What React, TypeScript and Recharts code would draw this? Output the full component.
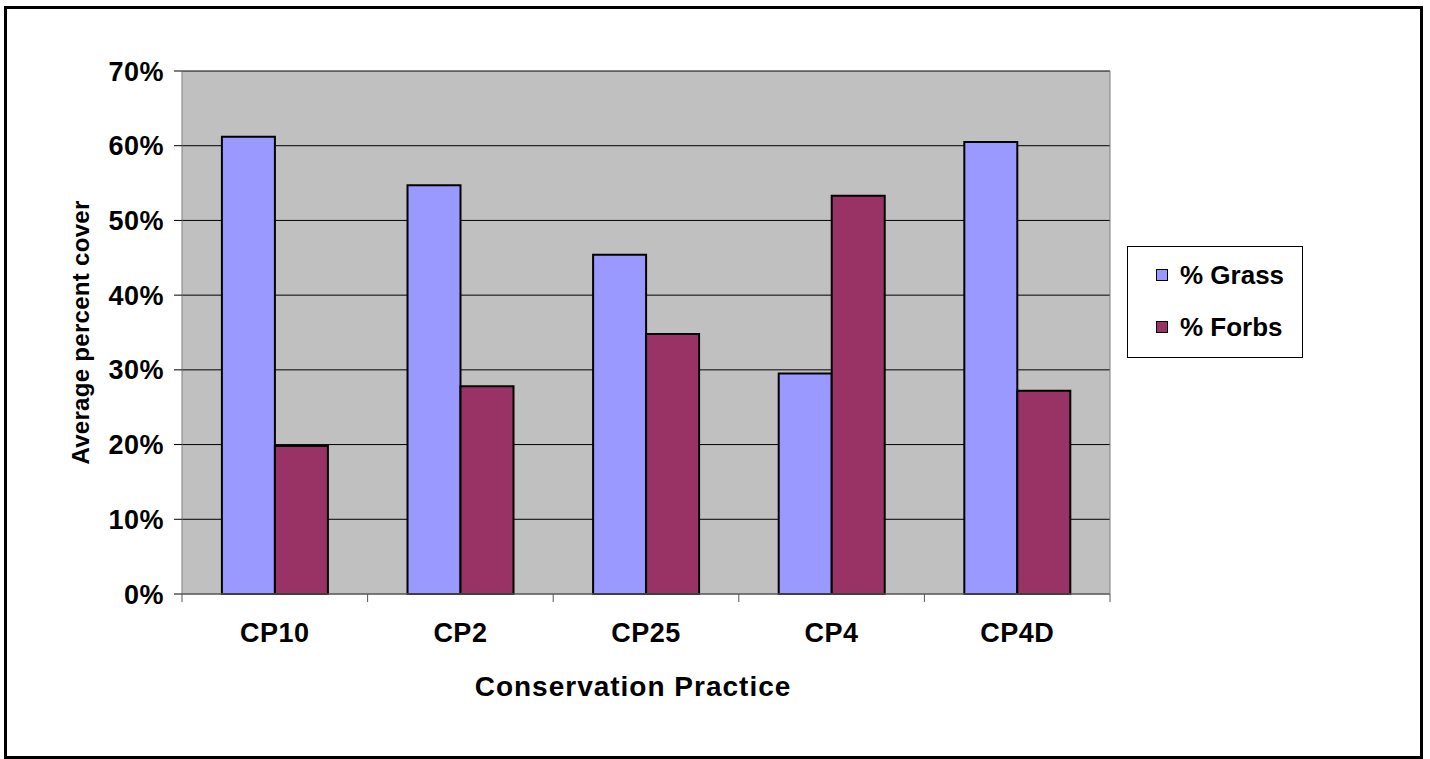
import React from 'react';
import {
  BarChart,
  Bar,
  XAxis,
  YAxis,
  CartesianGrid,
  Label,
} from 'recharts';

const practices = ['CP10', 'CP2', 'CP25', 'CP4', 'CP4D'];
const grass = [0.612, 0.547, 0.454, 0.295, 0.605];
const forbs = [0.198, 0.278, 0.348, 0.533, 0.272];
const yTicks = [0, 0.1, 0.2, 0.3, 0.4, 0.5, 0.6, 0.7];

const seriesNames = ['% Grass', '% Forbs'];
const seriesColors = ['#9999FF', '#993366'];

const FONT = '"Liberation Sans", Arial, sans-serif';

const data = practices.map((name, i) => ({
  name,
  grass: grass[i],
  forbs: forbs[i],
}));

// category label plus Excel-style tick marks on the category boundaries
function CategoryTick(props: any) {
  const { x, y, payload, index, visibleTicksCount, width } = props;
  const half = Number(width) / Number(visibleTicksCount) / 2;
  return (
    <g>
      {Number.isFinite(half) && (
        <line x1={x - half} x2={x - half} y1={y} y2={y + 8} stroke="#555" />
      )}
      {Number.isFinite(half) && index === visibleTicksCount - 1 && (
        <line x1={x + half} x2={x + half} y1={y} y2={y + 8} stroke="#555" />
      )}
      <text
        x={x}
        y={y + 48}
        textAnchor="middle"
        fill="#000"
        fontSize={27}
        fontWeight="bold"
        fontFamily={FONT}
        letterSpacing={0.5}
      >
        {payload.value}
      </text>
    </g>
  );
}

function LegendBox() {
  return (
    <div
      style={{
        position: 'absolute',
        left: 1127,
        top: 246,
        width: 176,
        height: 112,
        boxSizing: 'border-box',
        border: '1px solid #000',
        background: '#fff',
        fontFamily: FONT,
        fontWeight: 'bold',
        fontSize: 26,
      }}
    >
      {seriesNames.map((s, i) => (
        <div
          key={s}
          style={{
            position: 'absolute',
            left: 28,
            top: 13 + i * 52,
            height: 30,
            display: 'flex',
            alignItems: 'center',
            whiteSpace: 'nowrap',
          }}
        >
          <span
            style={{
              display: 'inline-block',
              width: 12,
              height: 12,
              boxSizing: 'border-box',
              border: '1px solid #000',
              background: seriesColors[i],
              marginRight: 12,
            }}
          />
          {s}
        </div>
      ))}
    </div>
  );
}

export default function App() {
  return (
    <div
      style={{
        position: 'absolute',
        left: 0,
        top: 0,
        width: 1430,
        height: 759,
        background: '#fff',
        overflow: 'hidden',
      }}
    >
      <div
        style={{
          position: 'absolute',
          left: 4,
          top: 6,
          width: 1419,
          height: 753,
          boxSizing: 'border-box',
          border: '3px solid #000',
        }}
      />
      <BarChart
        width={1430}
        height={759}
        data={data}
        margin={{ top: 71, right: 0, bottom: 0, left: 0 }}
        barCategoryGap="21.5%"
        barGap={0}
        style={{ position: 'absolute', left: 0, top: 0 }}
      >
        <CartesianGrid
          vertical={false}
          fill="#C0C0C0"
          stroke="#000"
          strokeWidth={1}
          fillOpacity={1}
        />
        <XAxis
          dataKey="name"
          height={165}
          interval={0}
          axisLine={{ stroke: '#808080', strokeWidth: 1 }}
          tickLine={false}
          tickSize={0}
          tickMargin={0}
          tick={<CategoryTick />}
        >
          <Label
            value="Conservation Practice"
            position="center"
            dy={10}
            dx={-13}
            style={{ fill: '#000', fontSize: 28, fontWeight: 'bold', fontFamily: FONT, letterSpacing: 1 }}
          />
        </XAxis>
        <XAxis
          xAxisId="top"
          dataKey="name"
          orientation="top"
          height={0}
          axisLine={{ stroke: '#808080', strokeWidth: 1 }}
          tick={false}
          tickLine={false}
        />
        <YAxis
          width={182}
          domain={[0, 0.7]}
          ticks={yTicks}
          interval={0}
          tickFormatter={(v: number) => `${Math.round(v * 100)}%`}
          axisLine={{ stroke: '#808080', strokeWidth: 1 }}
          tickLine={{ stroke: '#000' }}
          tickSize={8}
          tickMargin={10}
          tick={{ fill: '#000', fontSize: 27, fontWeight: 'bold', fontFamily: FONT, letterSpacing: 0.5 }}
        >
          <Label
            value="Average percent cover"
            angle={-90}
            position="center"
            dx={-11}
            style={{ fill: '#000', fontSize: 24, fontWeight: 'bold', fontFamily: FONT, textAnchor: 'middle', letterSpacing: 0.3 }}
          />
        </YAxis>
        <YAxis
          yAxisId="r"
          orientation="right"
          width={320}
          domain={[0, 0.7]}
          axisLine={{ stroke: '#808080', strokeWidth: 1 }}
          tick={false}
          tickLine={false}
        />
        <Bar
          dataKey="grass"
          name={seriesNames[0]}
          fill={seriesColors[0]}
          stroke="#000"
          strokeWidth={2}
          isAnimationActive={false}
        />
        <Bar
          dataKey="forbs"
          name={seriesNames[1]}
          fill={seriesColors[1]}
          stroke="#000"
          strokeWidth={2}
          isAnimationActive={false}
        />
      </BarChart>
      <LegendBox />
    </div>
  );
}
